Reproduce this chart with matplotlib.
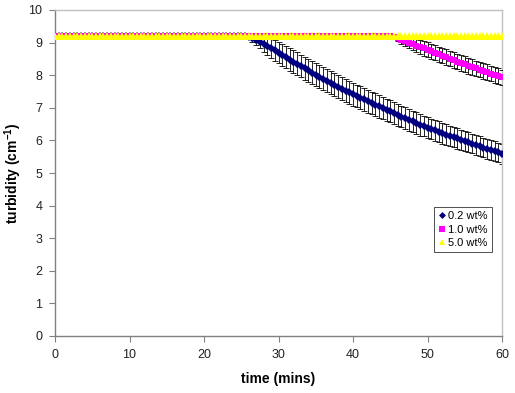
import numpy as np
import matplotlib
matplotlib.use("Agg")
import matplotlib.pyplot as plt

plt.rcParams['font.family'] = ['Liberation Sans', 'DejaVu Sans']
plt.rcParams['mathtext.fontset'] = 'custom'
plt.rcParams['mathtext.rm'] = 'Liberation Sans'
plt.rcParams['mathtext.bf'] = 'Liberation Sans:bold'

time = np.arange(0, 60.5, 0.5)

# 0.2 wt%
blue_vals = [9.2] * 52 + [
    9.17, 9.13, 9.08, 9.02, 8.96, 8.90, 8.83, 8.76, 8.69, 8.62,
    8.55, 8.48, 8.41, 8.35, 8.28, 8.21, 8.15, 8.08, 8.02, 7.95,
    7.89, 7.83, 7.77, 7.71, 7.65, 7.59, 7.53, 7.47, 7.42, 7.36,
    7.31, 7.26, 7.20, 7.15, 7.10, 7.04, 6.99, 6.94, 6.89, 6.83,
    6.78, 6.73, 6.68, 6.63, 6.58, 6.53, 6.48, 6.44, 6.39, 6.35,
    6.31, 6.26, 6.22, 6.18, 6.14, 6.10, 6.06, 6.02, 5.98, 5.94,
    5.90, 5.86, 5.82, 5.78, 5.74, 5.70, 5.67, 5.63, 5.59]
blue_err = [0.0] * 52 + [
    0.05, 0.10, 0.15, 0.20, 0.24, 0.27, 0.30, 0.31, 0.32, 0.33,
    0.34, 0.34, 0.35, 0.35, 0.35, 0.35, 0.35, 0.35, 0.35, 0.35,
    0.35, 0.35, 0.35, 0.35, 0.35, 0.35, 0.35, 0.35, 0.35, 0.35,
    0.35, 0.35, 0.35, 0.34, 0.34, 0.34, 0.34, 0.34, 0.34, 0.34,
    0.33, 0.33, 0.33, 0.33, 0.33, 0.33, 0.33, 0.32, 0.32, 0.32,
    0.32, 0.32, 0.32, 0.32, 0.31, 0.31, 0.31, 0.31, 0.31, 0.31,
    0.30, 0.30, 0.30, 0.30, 0.30, 0.30, 0.30, 0.30, 0.30]

# 1.0 wt%
mag_vals = [9.2] * 91 + [
    9.17, 9.13, 9.09, 9.05, 9.00, 8.96, 8.91, 8.87, 8.82, 8.78,
    8.73, 8.69, 8.64, 8.60, 8.55, 8.51, 8.47, 8.42, 8.38, 8.34,
    8.29, 8.25, 8.21, 8.17, 8.13, 8.09, 8.05, 8.01, 7.97, 7.93]
mag_err = [0.0] * 91 + [
    0.04, 0.08, 0.12, 0.15, 0.18, 0.20, 0.21, 0.22, 0.22, 0.23,
    0.23, 0.23, 0.23, 0.24, 0.24, 0.24, 0.24, 0.24, 0.24, 0.24,
    0.24, 0.24, 0.24, 0.24, 0.24, 0.24, 0.24, 0.24, 0.24, 0.24]

# 5.0 wt%
yel_vals = [9.2] * 121

labels = ['0.2 wt%', '1.0 wt%', '5.0 wt%']

fig = plt.figure(figsize=(5.15, 3.93), dpi=100)
ax = fig.add_axes([55/515, 57/393, 447/515, 326/393])

ax.errorbar(time, blue_vals, yerr=blue_err, fmt='none', ecolor='black',
            elinewidth=0.6, capsize=2.0, capthick=0.6, zorder=2)
ax.plot(time, blue_vals, linestyle='none', marker='D', markersize=4.4,
        color='#000080', markeredgewidth=0, label=labels[0], zorder=3)
ax.errorbar(time, mag_vals, yerr=mag_err, fmt='none', ecolor='black',
            elinewidth=0.6, capsize=2.0, capthick=0.6, zorder=4)
ax.plot(time, mag_vals, linestyle='none', marker='s', markersize=5.0,
        color='#FF00FF', markeredgewidth=0, label=labels[1], zorder=5)
ax.plot(time, yel_vals, linestyle='none', marker='^', markersize=6.2,
        color='#FFFF00', markeredgewidth=0, label=labels[2], zorder=6)

ax.set_xlim(0, 60)
ax.set_ylim(0, 10)
ax.set_xticks(range(0, 61, 10))
ax.set_yticks(range(0, 11))

for s in ['left', 'bottom']:
    ax.spines[s].set_color('#808080')
    ax.spines[s].set_linewidth(1.0)
for s in ['top', 'right']:
    ax.spines[s].set_color('#c0c0c0')
    ax.spines[s].set_linewidth(1.0)
ax.tick_params(direction='out', length=4, width=0.8, color='#808080',
               labelsize=9, labelcolor='#222222', pad=5)

ax.set_xlabel('time (mins)', fontsize=10, fontweight='bold')
ax.set_ylabel('turbidity (cm$^{\\mathbf{-1}}$)', fontsize=10, fontweight='bold')
ax.xaxis.set_label_coords(0.5, -0.11)
ax.yaxis.set_label_coords(-0.07, 0.5)

leg = ax.legend(loc='lower right', bbox_to_anchor=(0.977, 0.258), fontsize=8,
                frameon=True, fancybox=False, edgecolor='black',
                handlelength=0.6, handletextpad=0.3, borderpad=0.35,
                labelspacing=0.3, markerscale=0.8, borderaxespad=0)
leg.get_frame().set_linewidth(0.6)

fig.savefig('out.png', dpi=100)
